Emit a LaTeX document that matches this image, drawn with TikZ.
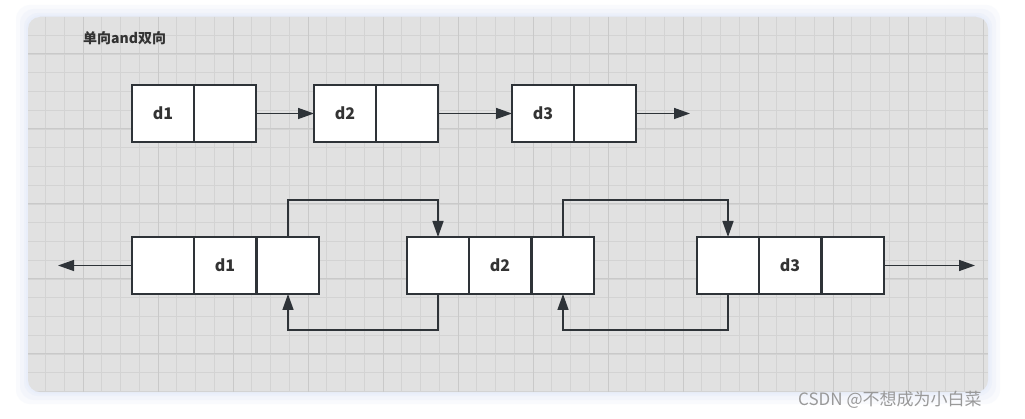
\documentclass[tikz,border=0pt]{standalone}
\usepackage{fontspec}
\setmainfont{Noto Sans CJK SC}
\usetikzlibrary{arrows.meta}
\definecolor{panel}{HTML}{E1E1E1}
\definecolor{gridminor}{HTML}{D3D3D3}
\definecolor{gridmajor}{HTML}{C9C9C9}
\definecolor{stroke}{HTML}{2E3338}
\definecolor{txt}{HTML}{333333}
\definecolor{glow}{HTML}{E8EEFA}
\tikzset{
  cell/.style={draw=stroke, fill=white, line width=1.6pt, outer sep=0pt, minimum width=62pt, minimum height=57pt, inner sep=0pt, anchor=north west, font=\bfseries\fontsize{16}{16}\selectfont, text=txt},
  link/.style={draw=stroke, line width=1.4pt, -{Triangle[length=16pt,width=11pt]}},
}
\begin{document}
\begin{tikzpicture}[x=1pt,y=-1pt]
\useasboundingbox (0,0) rectangle (1025,419);
\fill[white] (0,0) rectangle (1025,419);
% glow
\foreach \d/\o in {12/0.25,8/0.35,4/0.5,2/0.7}{
  \fill[glow, opacity=\o, rounded corners=14pt] (28-\d,17-\d) rectangle (988+\d,392+\d);
}
% panel
\fill[panel, rounded corners=12pt] (28,17) rectangle (988,392);
\begin{scope}
\clip[rounded corners=12pt] (28,17) rectangle (988,392);
\foreach \i in {0,...,52}{
  \draw[gridminor, line width=0.8pt] (26.75+\i*18.75,17) -- (26.75+\i*18.75,392);
}
\foreach \j in {0,...,20}{
  \draw[gridminor, line width=0.8pt] (28,16.5+\j*18.75) -- (988,16.5+\j*18.75);
}
\foreach \i in {0,...,12}{
  \draw[gridmajor, line width=1pt] (83+\i*75,17) -- (83+\i*75,392);
}
\foreach \j in {0,...,4}{
  \draw[gridmajor, line width=1pt] (28,54+\j*75) -- (988,54+\j*75);
}
\end{scope}
% title
\node[anchor=west, text=txt, font=\bfseries\fontsize{14}{14}\selectfont, inner sep=0pt] (title) at (83,38) {单向and双向};
% top row
\node[cell] (a1) at (132,85) {d1};
\node[cell] (a1n) at (194,85) {};
\node[cell] (a2) at (314,85) {d2};
\node[cell] (a2n) at (376,85) {};
\node[cell] (a3) at (512,85) {d3};
\node[cell] (a3n) at (574,85) {};
\coordinate (aend) at (690,113.5);
\draw[link] (a1n.east) -- (a2.west);
\draw[link] (a2n.east) -- (a3.west);
\draw[link] (a3n.east) -- (aend);
% bottom row
\node[cell] (b1p) at (132,237) {};
\node[cell] (b1) at (194,237) {d1};
\node[cell] (b1n) at (257,237) {};
\node[cell] (b2p) at (407,237) {};
\node[cell] (b2) at (469,237) {d2};
\node[cell] (b2n) at (532,237) {};
\node[cell] (b3p) at (697,237) {};
\node[cell] (b3) at (759,237) {d3};
\node[cell] (b3n) at (822,237) {};
\coordinate (bstart) at (58,265.5);
\coordinate (bend) at (975,265.5);
\draw[link] (b1p.west) -- (bstart);
\draw[link] (b3n.east) -- (bend);
\draw[link] (b1n.north) -- ++(0,-37) -| (b2p.north);
\draw[link] (b2p.south) -- ++(0,36) -| (b1n.south);
\draw[link] (b2n.north) -- ++(0,-37) -| (b3p.north);
\draw[link] (b3p.south) -- ++(0,36) -| (b2n.south);
% watermark
\node[anchor=west, text=black!40, font=\fontsize{17}{17}\selectfont, inner sep=0pt] (wm) at (798,400) {CSDN @不想成为小白菜};
\end{tikzpicture}
\end{document}
